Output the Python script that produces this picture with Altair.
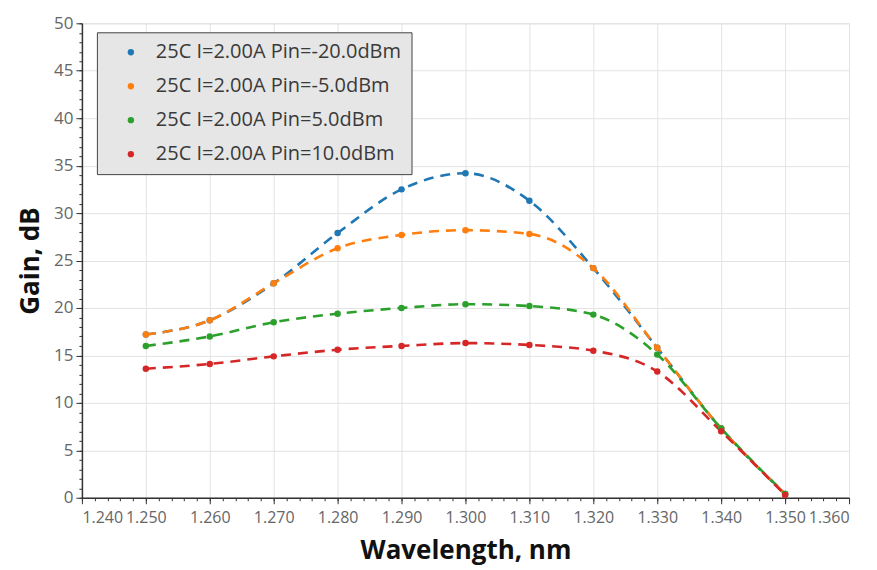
import altair as alt
import pandas as pd

wavelengths = [1250, 1260, 1270, 1280, 1290, 1300, 1310, 1320, 1330, 1340, 1350]
series_names = [
    "25C I=2.00A Pin=-20.0dBm",
    "25C I=2.00A Pin=-5.0dBm",
    "25C I=2.00A Pin=5.0dBm",
    "25C I=2.00A Pin=10.0dBm",
]
gain_m20 = [17.2, 18.7, 22.6, 27.9, 32.5, 34.2, 31.3, 24.2, 15.8, 7.3, 0.4]
gain_m5 = [17.2, 18.7, 22.6, 26.3, 27.7, 28.2, 27.8, 24.2, 15.8, 7.3, 0.4]
gain_p5 = [16.0, 17.0, 18.5, 19.4, 20.0, 20.4, 20.2, 19.3, 15.1, 7.3, 0.4]
gain_p10 = [13.6, 14.1, 14.9, 15.6, 16.0, 16.3, 16.1, 15.5, 13.3, 7.0, 0.3]
colors = ["#1f77b4", "#ff7f0e", "#2ca02c", "#d62728"]

x_major = list(range(1240, 1361, 10))
x_minor = list(range(1240, 1361, 2))
y_major = list(range(0, 51, 5))
y_minor = list(range(0, 51, 1))

rows = []
for i, (name, vals) in enumerate(zip(series_names, [gain_m20, gain_m5, gain_p5, gain_p10])):
    for w, g in zip(wavelengths, vals):
        rows.append({"wl": w, "gain": g, "series": name, "order": i})
df = pd.DataFrame(rows)

FONT = "Open Sans"
color = alt.Color(
    "series:N",
    scale=alt.Scale(domain=series_names, range=colors),
    sort=series_names,
    legend=alt.Legend(
        title=None,
        orient="none",
        legendX=15,
        legendY=9,
        fillColor="#e6e6e6",
        strokeColor="#444444",
        padding=10,
        labelFont=FONT,
        labelFontSize=20,
        labelColor="#3a3a3a",
        labelLimit=500,
        labelOffset=15,
        symbolOffset=14,
        symbolType="circle",
        symbolSize=40,
        symbolStrokeWidth=0,
        rowPadding=14,
        offset=0,
    ),
)

xscale = alt.Scale(domain=[1240, 1360], nice=False)
yscale = alt.Scale(domain=[0, 50], nice=False)

lines = alt.Chart(df).mark_line(
    interpolate="monotone", strokeDash=[10, 7], strokeWidth=2.6
).encode(
    x=alt.X(
        "wl:Q",
        scale=xscale,
        title="Wavelength, nm",
        axis=alt.Axis(
            values=x_major,
            labelExpr="replace(format(datum.value, ','), ',', '.')",
            labelOverlap=False,
            orient="bottom",
            grid=True,
            gridColor="#e3e3e3",
            domainColor="#333333",
            domainWidth=1.5,
            tickColor="#333333",
            tickSize=6,
            labelPadding=6,
            labelFont=FONT,
            labelFontSize=16,
            labelColor="#666666",
            titleFont=FONT,
            titleFontSize=26,
            titleFontWeight="bold",
            titleColor="#111111",
            titlePadding=12,
        ),
    ),
    y=alt.Y(
        "gain:Q",
        scale=yscale,
        title="Gain, dB",
        axis=alt.Axis(
            values=y_major,
            labelOverlap=False,
            orient="left",
            grid=True,
            gridColor="#e3e3e3",
            domainColor="#333333",
            domainWidth=1.5,
            tickColor="#333333",
            tickSize=6,
            labelPadding=3,
            labelFont=FONT,
            labelFontSize=17,
            labelColor="#666666",
            titleFont=FONT,
            titleFontSize=26,
            titleFontWeight="bold",
            titleColor="#111111",
            titlePadding=10,
        ),
    ),
    color=color,
    order="order:Q",
    detail="series:N",
)

points = alt.Chart(df).mark_circle(size=42, opacity=1).encode(
    x=alt.X(
        "wl:Q",
        scale=xscale,
        title=None,
        axis=alt.Axis(
            values=x_minor, labels=False, grid=False, domain=False, orient="bottom",
            tickColor="#333333", tickSize=3, title=None,
        ),
    ),
    y=alt.Y(
        "gain:Q",
        scale=yscale,
        title=None,
        axis=alt.Axis(
            values=y_minor, labels=False, grid=False, domain=False, orient="left",
            tickColor="#333333", tickSize=3, title=None,
        ),
    ),
    color=alt.Color("series:N", scale=alt.Scale(domain=series_names, range=colors), legend=None),
)

chart = (
    alt.layer(lines, points)
    .resolve_axis(x="independent", y="independent")
    .properties(
        width=768,
        height=475,
        autosize=alt.AutoSizeParams(type="none"),
        padding={"left": 74, "top": 15, "right": 20, "bottom": 68},
    )
    .configure_view(stroke="#555555", strokeWidth=1.5)
    .configure(background="white")
)

chart.save("out.html", embed_options={"renderer": "svg", "actions": False})
